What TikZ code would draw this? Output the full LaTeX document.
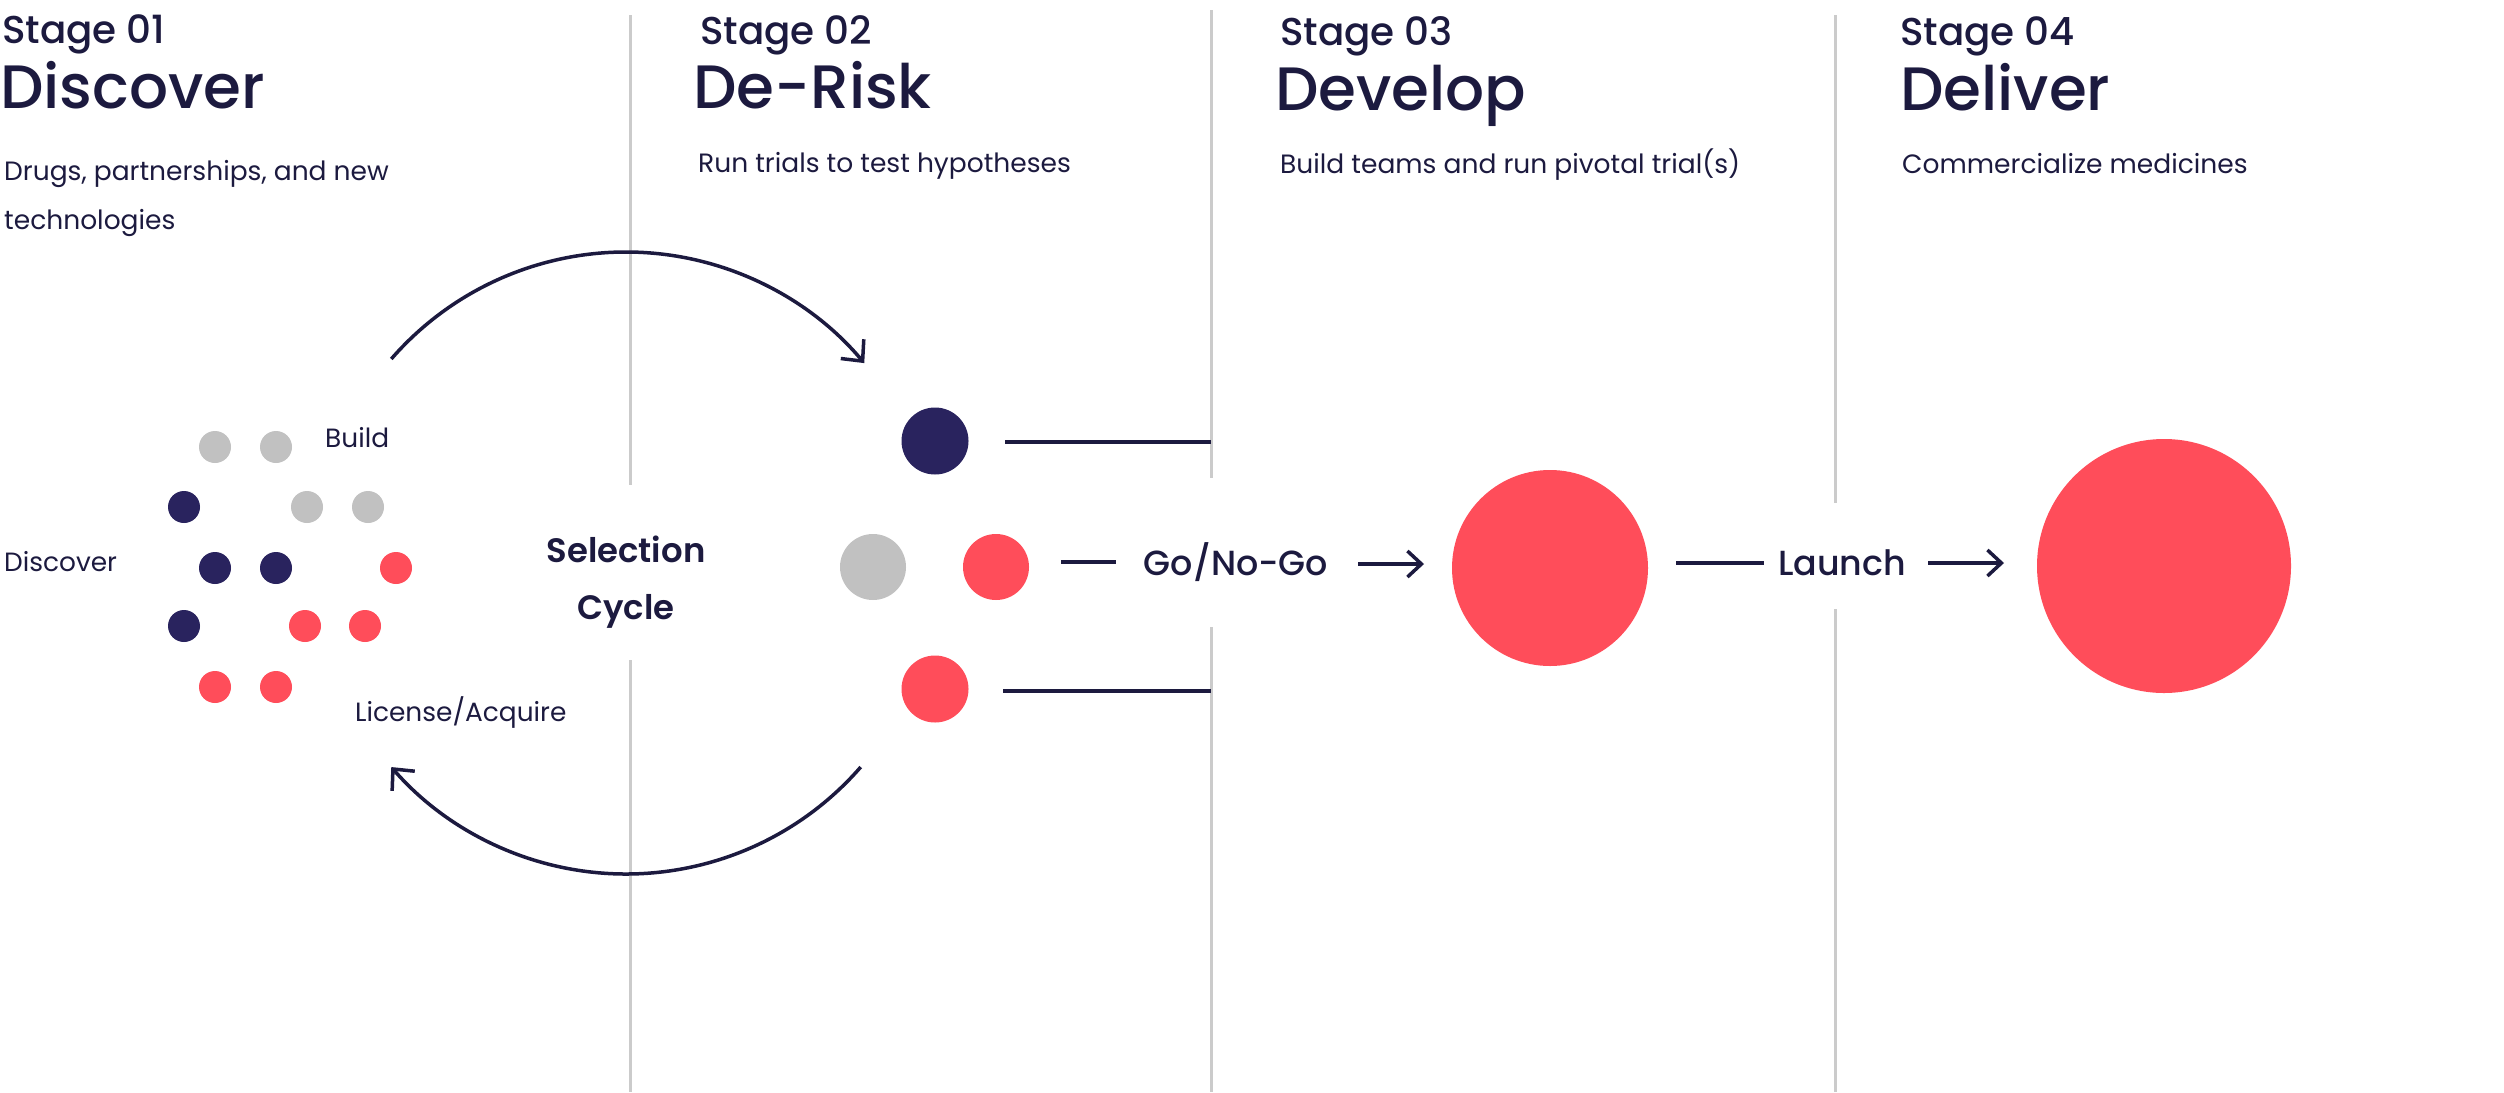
\documentclass[tikz,border=0pt]{standalone}
\usepackage{fontspec}
\setmainfont{Poppins}
\newfontfamily\medfont{Poppins Medium}
\newfontfamily\semifont{Poppins SemiBold}
\usetikzlibrary{arrows.meta}
\definecolor{ink}{HTML}{1C1A3F}
\definecolor{navy}{HTML}{29235E}
\definecolor{coral}{HTML}{FF4D5A}
\definecolor{dotgray}{HTML}{C1C1C1}
\definecolor{rule}{HTML}{CBCBCB}
\tikzset{
  stagelbl/.style={anchor=base west, inner sep=0pt, text=ink, font=\medfont\fontsize{39}{44}\selectfont},
  titlelbl/.style={anchor=base west, inner sep=0pt, text=ink, font=\medfont\fontsize{61.5}{70}\selectfont},
  desclbl/.style={anchor=base west, inner sep=0pt, text=ink, font=\fontsize{26.6}{30}\selectfont},
  smalllbl/.style={anchor=base west, inner sep=0pt, text=ink, font=\fontsize{26.5}{30}\selectfont},
  flowlbl/.style={anchor=base, inner sep=0pt, text=ink, font=\medfont\fontsize{35}{40}\selectfont},
  cyclbl/.style={anchor=base, inner sep=0pt, text=ink, font=\semifont\fontsize{34}{40}\selectfont},
  divider/.style={draw=rule, line width=3bp},
  conn/.style={draw=ink, line width=3.5bp},
  arrowconn/.style={draw=ink, line width=3.5bp, -{Straight Barb[length=14bp,width=26bp,line width=3.5bp]}},
  cyclearc/.style={draw=ink, line width=3.5bp, -{Straight Barb[length=16bp,width=30bp,line width=3.5bp]}},
  dotnavy/.style={circle, fill=navy, inner sep=0pt, minimum size=#1},
  dotcoral/.style={circle, fill=coral, inner sep=0pt, minimum size=#1},
  dotgrey/.style={circle, fill=dotgray, inner sep=0pt, minimum size=#1},
}
\begin{document}
\begin{tikzpicture}[x=1bp,y=-1bp]
\useasboundingbox (0,0) rectangle (2504,1092);
\fill[white] (0,0) rectangle (2504,1092);

% dividers
\coordinate (d1t) at (630,15);  \coordinate (d1a) at (630,485);
\coordinate (d1b) at (630,660); \coordinate (d1e) at (630,1092);
\coordinate (d2t) at (1211,10); \coordinate (d2a) at (1211,478);
\coordinate (d2b) at (1211,627); \coordinate (d2e) at (1211,1092);
\coordinate (d3t) at (1835,15); \coordinate (d3a) at (1835,503);
\coordinate (d3b) at (1835,609); \coordinate (d3e) at (1835,1092);
\path[divider] (d1t) -- (d1a) (d1b) -- (d1e);
\path[divider] (d2t) -- (d2a) (d2b) -- (d2e);
\path[divider] (d3t) -- (d3a) (d3b) -- (d3e);

% headers
\node[stagelbl] (s1) at (2,43) {Stage 01};
\node[titlelbl] (t1) at (0,108) {Discover};
\node[desclbl] (x1a) at (4,180) {Drugs, partnerships, and new};
\node[desclbl] (x1b) at (4,229) {technologies};

\node[stagelbl] (s2) at (700,44) {Stage 02};
\node[titlelbl] (t2) at (693,108) {De-Risk};
\node[desclbl] (x2) at (698,172) {Run trials to test hypotheses};

\node[stagelbl] (s3) at (1280,45) {Stage 03};
\node[titlelbl] (t3) at (1275,110) {Develop};
\node[desclbl] (x3) at (1280,173) {Build teams and run pivotal trial(s)};

\node[stagelbl] (s4) at (1900,45) {Stage 04};
\node[titlelbl] (t4) at (1900,110) {Deliver};
\node[desclbl] (x4) at (1902,173) {Commercialize medicines};

% discover cluster
\node[dotgrey=32bp] (c1) at (215,447) {};
\node[dotgrey=32bp] (c2) at (276,447) {};
\node[dotnavy=32bp] (c3) at (184,507) {};
\node[dotgrey=32bp] (c4) at (307,507) {};
\node[dotgrey=32bp] (c5) at (368,507) {};
\node[dotnavy=32bp] (c6) at (215,568) {};
\node[dotnavy=32bp] (c7) at (276,568) {};
\node[dotcoral=32bp] (c8) at (396,568) {};
\node[dotnavy=32bp] (c9) at (184,626) {};
\node[dotcoral=32bp] (c10) at (305,626) {};
\node[dotcoral=32bp] (c11) at (365,626) {};
\node[dotcoral=32bp] (c12) at (215,687) {};
\node[dotcoral=32bp] (c13) at (276,687) {};

\node[smalllbl] (lb) at (325,447) {Build};
\node[smalllbl] (ld) at (4,571) {Discover};
\node[smalllbl] (ll) at (355,721) {License/Acquire};

% selection cycle
\node[cyclbl] (sel) at (626,562) {Selection};
\node[cyclbl] (cyc) at (626,619) {Cycle};
\coordinate (cc) at (626,563);
\coordinate (arcAs) at ([shift={(-139:311)}]cc);
\coordinate (arcBs) at ([shift={(41:311)}]cc);
\path[cyclearc] (arcAs) arc[start angle=-139, end angle=-40, radius=311];
\path[cyclearc] (arcBs) arc[start angle=41, end angle=139, radius=311];

% de-risk dots
\node[dotnavy=67bp] (r1) at (935,441) {};
\node[dotgrey=66bp] (r2) at (873,567) {};
\node[dotcoral=66bp] (r3) at (996,567) {};
\node[dotcoral=67bp] (r4) at (935,689) {};

\coordinate (r1s) at (1005,442);
\coordinate (r1e) at (1211,442);
\coordinate (r4s) at (1003,691);
\coordinate (r4e) at (1211,691);
\path[conn] (r1s) -- (r1e);
\path[conn] (r4s) -- (r4e);

% go / no-go
\node[flowlbl] (go) at (1236,575) {Go/No-Go};
\node[circle, fill=coral, inner sep=0pt, minimum size=196bp] (dev) at (1550,568) {};
\coordinate (g1) at (1061,562); \coordinate (g2) at (1116,562);
\coordinate (g3) at (1358,564); \coordinate (g4) at (1424,564);
\path[conn] (g1) -- (g2);
\path[arrowconn] (g3) -- (g4);

% launch
\node[flowlbl] (la) at (1842,575) {Launch};
\node[circle, fill=coral, inner sep=0pt, minimum size=254bp] (del) at (2164,566) {};
\coordinate (l1) at (1676,563); \coordinate (l2) at (1764,563);
\coordinate (l3) at (1928,563); \coordinate (l4) at (2004,563);
\path[conn] (l1) -- (l2);
\path[arrowconn] (l3) -- (l4);
\end{tikzpicture}
\end{document}
